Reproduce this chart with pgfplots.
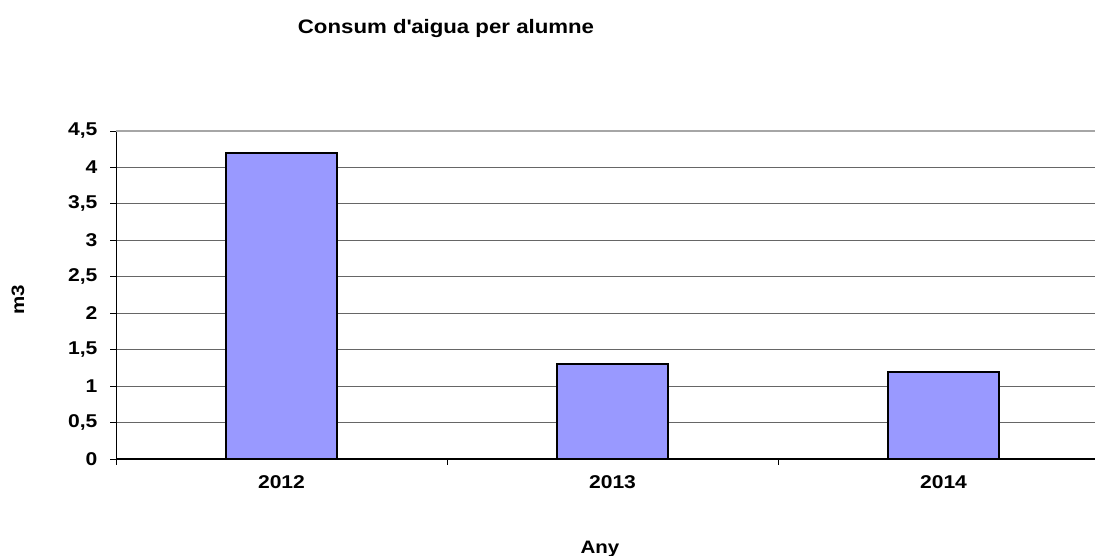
\documentclass[border=0pt]{standalone}
\usepackage{pgfplots}
\pgfplotsset{compat=1.18}
\usepackage{fontspec}
\setmainfont{Liberation Sans}[FakeStretch=1.14]
\definecolor{barfill}{HTML}{9999FF}
\begin{document}
\begin{tikzpicture}[x=1pt,y=1pt]
\clip (0,0) rectangle (1095,556);
\useasboundingbox (0,0) rectangle (1095,556);
\begin{axis}[
  at={(116pt,97pt)}, anchor=south west,
  scale only axis, width=993pt, height=328pt,
  xmin=-0.5, xmax=2.5, ymin=0, ymax=4.5,
  axis lines*=left,
  axis line style={black, line width=1pt},
  xtick={-0.5,0.5,1.5,2.5},
  xticklabels={},
  extra x ticks={0,1,2},
  extra x tick labels={2012,2013,2014},
  extra x tick style={major tick length=0pt, grid=none},
  ytick={0,0.5,...,4.5},
  yticklabels={0,{0,5},1,{1,5},2,{2,5},3,{3,5},4,{4,5}},
  tick align=outside,
  major tick length=6pt,
  tick style={black, line width=0.8pt},
  ymajorgrids,
  grid style={gray!80!black, line width=1pt},
  tick label style={font=\fontsize{18.5}{18}\selectfont\bfseries},
  /pgf/number format/assume math mode=true,
  yticklabel style={xshift=-9pt},
  xticklabel style={yshift=-13pt},
  clip=false,
]
\addplot[ybar, bar width=111pt, fill=barfill, draw=black, line width=2pt] coordinates {(0,4.2) (1,1.3) (2,1.2)};
\draw[gray!70, line width=2pt] (axis cs:-0.5,4.5) -- (axis cs:2.5,4.5);
\draw[black, line width=1.5pt] (axis cs:-0.5,0) -- (axis cs:2.5,0);
\end{axis}
\node[font=\fontsize{19.5}{20}\selectfont\bfseries] at (446,527) {Consum d\textquotesingle aigua per alumne};
\node[font=\fontsize{18}{18}\selectfont\bfseries] at (600,7) {Any};
\node[font=\fontsize{18}{18}\selectfont\bfseries, rotate=90] at (18,256) {m3};
\end{tikzpicture}
\end{document}
